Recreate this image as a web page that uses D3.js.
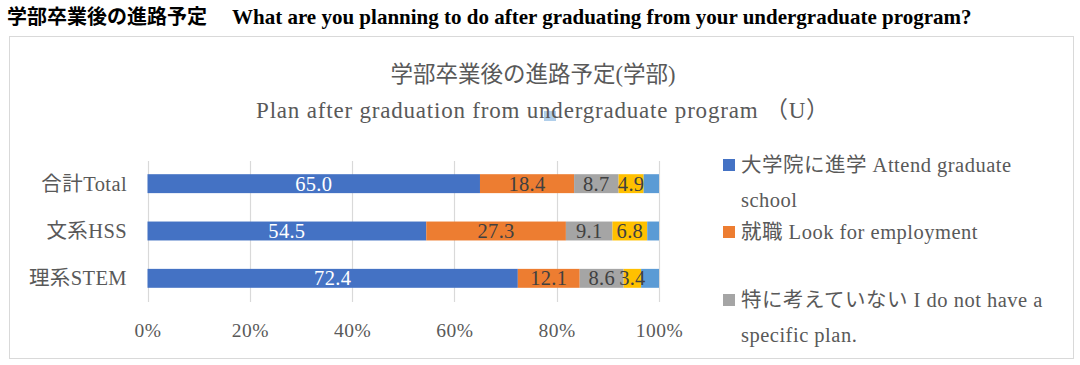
<!DOCTYPE html>
<html><head><meta charset="utf-8">
<script src="https://cdn.jsdelivr.net/npm/d3@7"></script>
<style>
html,body{margin:0;padding:0;background:#fff;}
svg{display:block;}
</style></head>
<body>
<svg id="chart" width="1080" height="365"></svg>
<script>
const categories = ["合計Total", "文系HSS", "理系STEM"];
const seriesKeys = ["grad", "job", "none", "other", "na"];
const seriesNames = ["大学院に進学 Attend graduate school", "就職 Look for employment", "特に考えていない I do not have a specific plan.", "その他 Other", "無回答 No answer"];
const seriesColors = ["#4472C4", "#ED7D31", "#A5A5A5", "#FFC000", "#5B9BD5"];
const gradValues = [65.0, 54.5, 72.4];
const jobValues = [18.4, 27.3, 12.1];
const noneValues = [8.7, 9.1, 8.6];
const otherValues = [4.9, 6.8, 3.4];
const naValues = [3.0, 2.3, 3.5];
const tickValues = [0, 0.2, 0.4, 0.6, 0.8, 1.0];
const labelledSeries = ["grad", "job", "none", "other"];
const legendLines = [["大学院に進学 Attend graduate", "school"], ["就職 Look for employment"], ["特に考えていない I do not have a", "specific plan."]];

const rows = categories.map((c, i) => ({cat: c, grad: gradValues[i], job: jobValues[i], none: noneValues[i], other: otherValues[i], na: naValues[i]}));

const svg = d3.select("#chart");
const serif = "'Liberation Serif','Noto Sans CJK JP',serif";
const textCol = "#595959";

// header
const hdr = svg.append("text").attr("x", 7).attr("y", 24).attr("fill", "#000");
hdr.append("tspan").attr("font-family", "'Noto Sans CJK JP',sans-serif").attr("font-weight", 700).attr("font-size", 20).text("学部卒業後の進路予定");
hdr.append("tspan").attr("x", 232).attr("font-family", "'Liberation Serif',serif").attr("font-weight", 700).attr("font-size", 21).text("What are you planning to do after graduating from your undergraduate program?");

// frame
svg.append("rect").attr("x", 9.5).attr("y", 36.5).attr("width", 1064).attr("height", 322)
  .attr("fill", "#fff").attr("stroke", "#d9d9d9").attr("stroke-width", 1);

// titles
svg.append("text").attr("x", 533).attr("y", 82).attr("text-anchor", "middle")
  .attr("font-family", serif).attr("font-size", 22.5).attr("fill", textCol).text("学部卒業後の進路予定(学部)");
svg.append("rect").attr("x", 544).attr("y", 111).attr("width", 12).attr("height", 10).attr("fill", "#9DC3E6").attr("opacity", 0.8);
svg.append("text").attr("x", 543).attr("y", 118).attr("text-anchor", "middle")
  .attr("font-family", serif).attr("font-size", 23).attr("letter-spacing", 0.8).attr("fill", textCol).text("Plan after graduation from undergraduate program （U）");

// scales
const x = d3.scaleLinear().domain([0, 1]).range([147.5, 659]);
const y = d3.scaleBand().domain(categories).range([160, 302]).paddingInner(0.6).paddingOuter(0.3);

// grid
svg.append("g").selectAll("line").data(tickValues).join("line")
  .attr("x1", d => Math.round(x(d)) + 0.5).attr("x2", d => Math.round(x(d)) + 0.5)
  .attr("y1", 161).attr("y2", 302).attr("stroke", "#d9d9d9").attr("stroke-width", 1.2);

// stack
const stack = d3.stack().keys(seriesKeys)(rows);
const g = svg.append("g");
stack.forEach((layer, li) => {
  g.append("g").attr("fill", seriesColors[li]).selectAll("rect").data(layer).join("rect")
    .attr("x", d => x(d[0] / 100)).attr("width", d => x(d[1] / 100) - x(d[0] / 100))
    .attr("y", d => y(d.data.cat)).attr("height", y.bandwidth());
});
// labels
stack.forEach((layer, li) => {
  if (!labelledSeries.includes(layer.key)) return;
  g.append("g").selectAll("text").data(layer).join("text")
    .attr("x", d => (x(d[0] / 100) + x(d[1] / 100)) / 2)
    .attr("y", d => y(d.data.cat) + y.bandwidth() / 2 + 7)
    .attr("text-anchor", "middle").attr("font-family", serif).attr("font-size", 20.5).attr("letter-spacing", 0.3)
    .attr("fill", li === 0 ? "#fff" : "#404040")
    .text(d => (d[1] - d[0]).toFixed(1));
});

// category axis labels
svg.append("g").selectAll("text").data(categories).join("text")
  .attr("x", 127).attr("y", d => y(d) + y.bandwidth() / 2 + 7).attr("text-anchor", "end")
  .attr("font-family", serif).attr("font-size", 20.5).attr("letter-spacing", 0.4).attr("fill", textCol).text(d => d);

// x axis tick labels
const xAxis = d3.axisBottom(x).tickValues(tickValues).tickFormat(d3.format(".0%")).tickSize(0).tickPadding(0);
const ax = svg.append("g").attr("transform", "translate(0,337)").call(xAxis);
ax.select(".domain").remove();
ax.selectAll("text").attr("dy", 0).attr("font-family", serif).attr("font-size", 19.5).attr("letter-spacing", 0.5).attr("fill", textCol);

// legend
const legendY = [165, 232, 300];
legendLines.forEach((lines, i) => {
  svg.append("rect").attr("x", 723).attr("y", legendY[i] - 6).attr("width", 12).attr("height", 12).attr("fill", seriesColors[i]);
  lines.forEach((t, j) => {
    svg.append("text").attr("x", 741).attr("y", legendY[i] + 7 + j * 35)
      .attr("font-family", serif).attr("font-size", 20.5).attr("letter-spacing", 0.5).attr("fill", textCol).text(t);
  });
});
</script>
</body></html>
